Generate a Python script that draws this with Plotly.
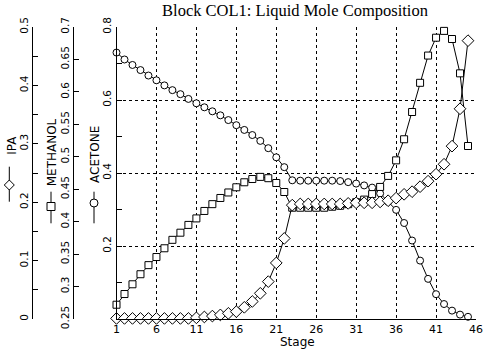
import plotly.graph_objects as go

W, H = 488, 355

stages = list(range(1, 46))

acetone = [0.730, 0.711, 0.696, 0.682, 0.667, 0.654, 0.640, 0.627, 0.616, 0.603,
           0.591, 0.580, 0.569, 0.558, 0.545, 0.531, 0.518, 0.504, 0.488, 0.468,
           0.443, 0.416, 0.380, 0.379, 0.379, 0.379, 0.379, 0.379, 0.378, 0.375,
           0.371, 0.366, 0.360, 0.344, 0.321, 0.299, 0.263, 0.215, 0.160, 0.110,
           0.068, 0.041, 0.023, 0.012, 0.006]

methanol = [0.272, 0.2885, 0.3035, 0.319, 0.333, 0.3455, 0.359, 0.372, 0.383, 0.395,
            0.405, 0.4165, 0.427, 0.4365, 0.445, 0.453, 0.4607, 0.4657, 0.469, 0.467,
            0.4596, 0.4457, 0.4215, 0.4215, 0.4215, 0.4215, 0.4215, 0.423, 0.4245, 0.427,
            0.430, 0.434, 0.4425, 0.4535, 0.4705, 0.4945, 0.527, 0.569, 0.614, 0.656,
            0.6835, 0.694, 0.6815, 0.6286, 0.5166]

ipa = [0.001, 0.001, 0.001, 0.001, 0.001, 0.001, 0.001, 0.001, 0.001, 0.001,
       0.002, 0.0035, 0.005, 0.007, 0.0097, 0.0126, 0.020, 0.030, 0.044, 0.064,
       0.096, 0.138, 0.195, 0.197, 0.197, 0.197, 0.197, 0.197, 0.197, 0.198,
       0.199, 0.199, 0.199, 0.2005, 0.2025, 0.207, 0.2135, 0.218, 0.2266, 0.236,
       0.248, 0.265, 0.296, 0.360, 0.4766]

x_ticks = [1, 6, 11, 16, 21, 26, 31, 36, 41, 46]
x_ticktext = ["1", "6", "11", "16", "21", "26", "31", "36", "41", "46"]

acetone_ticks = [0.2, 0.4, 0.6, 0.8]
acetone_ticktext = ["0.2", "0.4", "0.6", "0.8"]
acetone_minor = [0.1, 0.3, 0.5, 0.7]

methanol_ticks = [0.25, 0.3, 0.35, 0.4, 0.45, 0.5, 0.55, 0.6, 0.65, 0.7]
methanol_ticktext = ["0.25", "0.3", "0.35", "0.4", "0.45", "0.5", "0.55", "0.6", "0.65", "0.7"]

ipa_ticks = [0, 0.1, 0.2, 0.3, 0.4, 0.5]
ipa_ticktext = ["0", "0.1", "0.2", "0.3", "0.4", "0.5"]
ipa_minor = [0.05, 0.15, 0.25, 0.35, 0.45]


def px(x):
    return x / W


def py(y):
    return 1 - y / H


TICKFONT = dict(family="DejaVu Sans", size=10.5, color="black")

fig = go.Figure()

line_style = dict(color="black", width=1)

fig.add_trace(go.Scatter(
    x=stages, y=acetone, mode="lines+markers", yaxis="y",
    line=line_style,
    marker=dict(symbol="circle", size=7, color="white", line=dict(color="black", width=1)),
    cliponaxis=False, showlegend=False))

fig.add_trace(go.Scatter(
    x=stages, y=methanol, mode="lines+markers", yaxis="y2",
    line=line_style,
    marker=dict(symbol="square", size=7, color="white", line=dict(color="black", width=1)),
    cliponaxis=False, showlegend=False))

fig.add_trace(go.Scatter(
    x=stages, y=ipa, mode="lines+markers", yaxis="y3",
    line=line_style,
    marker=dict(symbol="diamond", size=9, color="white", line=dict(color="black", width=1)),
    cliponaxis=False, showlegend=False))

ydom = [py(319), py(27)]

fig.update_layout(
    width=W, height=H,
    margin=dict(l=0, r=0, t=0, b=0),
    paper_bgcolor="white", plot_bgcolor="white",
    font=dict(family="DejaVu Sans", color="black"),
    hovermode=False,
    xaxis=dict(
        domain=[px(116.5), px(476)], range=[1, 46],
        tickvals=x_ticks, ticktext=x_ticktext,
        showline=True, linecolor="black", linewidth=1,
        ticks="", showgrid=True, gridcolor="black", gridwidth=1, griddash="dot",
        zeroline=False, tickfont=dict(family="DejaVu Sans", size=11, color="black"),
        anchor="y", automargin=False,
    ),
    yaxis=dict(
        domain=ydom, range=[0, 0.8],
        tickvals=acetone_ticks, ticktext=acetone_ticktext, tickangle=-90,
        showline=True, linecolor="black", linewidth=1,
        ticks="inside", ticklen=5, tickcolor="black",
        minor=dict(tickvals=acetone_minor, ticks="inside", ticklen=5, tickcolor="black", showgrid=False),
        showgrid=True, gridcolor="black", gridwidth=1, griddash="dot",
        zeroline=False, tickfont=TICKFONT, anchor="x", automargin=False,
    ),
    yaxis2=dict(
        overlaying="y", anchor="free", position=px(72.7), side="left",
        range=[0.25, 0.7],
        tickvals=methanol_ticks, ticktext=methanol_ticktext, tickangle=-90,
        showline=True, linecolor="black", linewidth=1,
        ticks="inside", ticklen=5, tickcolor="black",
        showgrid=False, zeroline=False, tickfont=TICKFONT, automargin=False,
    ),
    yaxis3=dict(
        overlaying="y", anchor="free", position=px(31.7), side="left",
        range=[0, 0.5],
        tickvals=ipa_ticks, ticktext=ipa_ticktext, tickangle=-90,
        showline=True, linecolor="black", linewidth=1,
        ticks="inside", ticklen=5, tickcolor="black",
        minor=dict(tickvals=ipa_minor, ticks="inside", ticklen=5, tickcolor="black", showgrid=False),
        showgrid=False, zeroline=False, tickfont=TICKFONT, automargin=False,
    ),
    title=dict(text="Block COL1: Liquid Mole Composition",
               font=dict(family="Liberation Serif", size=16.5, color="black"),
               xref="paper", x=px(295), xanchor="center",
               yref="container", y=py(10), yanchor="middle"),
)

annotations = [
    dict(text="Stage", x=px(297), y=py(342), xref="paper", yref="paper",
         showarrow=False, font=dict(family="DejaVu Sans", size=12, color="black"),
         xanchor="center", yanchor="middle"),
    dict(text="IPA", x=px(11.7), y=py(145), xref="paper", yref="paper",
         showarrow=False, textangle=-90, font=dict(family="DejaVu Sans", size=12, color="black"),
         xanchor="center", yanchor="middle"),
    dict(text="METHANOL", x=px(52.3), y=py(152), xref="paper", yref="paper",
         showarrow=False, textangle=-90, font=dict(family="DejaVu Sans", size=12, color="black"),
         xanchor="center", yanchor="middle"),
    dict(text="ACETONE", x=px(95), y=py(155), xref="paper", yref="paper",
         showarrow=False, textangle=-90, font=dict(family="DejaVu Sans", size=12, color="black"),
         xanchor="center", yanchor="middle"),
]
fig.update_layout(annotations=annotations)

shapes = []
# legend keys: vertical line + marker
for lx, y0, y1 in [(9.3, 166.7, 201.7), (51, 191.7, 223.3), (94, 191.7, 223.3)]:
    shapes.append(dict(type="line", xref="paper", yref="paper",
                       x0=px(lx), x1=px(lx), y0=py(y0), y1=py(y1),
                       line=dict(color="black", width=1)))
# diamond
cx, cy, r = 9.3, 185, 5
shapes.append(dict(type="path", xref="paper", yref="paper",
                   path=f"M {px(cx)} {py(cy - r)} L {px(cx + r)} {py(cy)} L {px(cx)} {py(cy + r)} L {px(cx - r)} {py(cy)} Z",
                   fillcolor="white", line=dict(color="black", width=1)))
# square
cx, cy, r = 51, 206.5, 4
shapes.append(dict(type="rect", xref="paper", yref="paper",
                   x0=px(cx - r), x1=px(cx + r), y0=py(cy + r), y1=py(cy - r),
                   fillcolor="white", line=dict(color="black", width=1)))
# circle
cx, cy, r = 94, 203, 4
shapes.append(dict(type="circle", xref="paper", yref="paper",
                   x0=px(cx - r), x1=px(cx + r), y0=py(cy + r), y1=py(cy - r),
                   fillcolor="white", line=dict(color="black", width=1)))
fig.update_layout(shapes=shapes)

fig.write_html("out.html",
               config={"displayModeBar": False},
               post_script="document.body.style.margin='0';document.body.style.padding='0';")
